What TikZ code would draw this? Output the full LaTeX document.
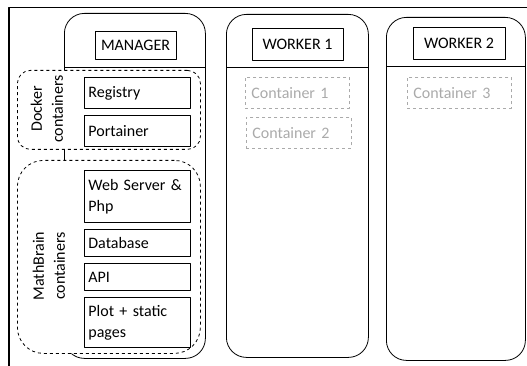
\documentclass[tikz,border=0pt]{standalone}
\usepackage{fontspec}
\setmainfont{Carlito}
\usetikzlibrary{positioning}
\definecolor{lightgrey}{RGB}{170,170,170}

\tikzset{
  hostbox/.style={draw,line width=0.8pt,rounded corners=20pt,anchor=north west,inner sep=0pt},
  headbox/.style={draw,line width=0.8pt,minimum width=81pt,minimum height=28pt,inner sep=0pt},
  srvbox/.style={draw,line width=0.8pt,fill=white,anchor=north west,align=left,text width=98pt,inner xsep=4pt,inner ysep=2pt},
  groupbox/.style={draw,dashed,line width=0.8pt,fill=white,anchor=north west,inner sep=0pt},
  ctrbox/.style={draw=lightgrey,dashed,line width=0.8pt,text=lightgrey,anchor=north west,align=left,text width=92pt,inner xsep=6pt,minimum height=31pt},
  grouplabel/.style={rotate=90,align=center,inner sep=0pt}
}

\begin{document}
\begin{tikzpicture}[x=1pt,y=-1pt,line join=round,font=\fontsize{16}{21}\selectfont]
\useasboundingbox (0,0) rectangle (527,366);
% frame
\draw[line width=1.2pt] (527,7.5) -- (9,7.5) -- (9,366);

% manager node
\node[hostbox,minimum width=141pt,minimum height=345pt] (manager) at (64,13) {};
\draw[line width=0.8pt] (64,67) -- (205,67);
\node[headbox] (mgrhead) at (135.5,45) {MANAGER};

\node[groupbox,rounded corners=13pt,minimum width=183pt,minimum height=79pt] (docker) at (17,70) {};
\node[grouplabel] (dockerlbl) at (47,109) {Docker\\containers};
\node[srvbox,minimum height=31pt] (registry) at (84,77) {Registry};
\node[srvbox,minimum height=31pt] (portainer) at (84,115) {Portainer};

\node[groupbox,rounded corners=26pt,minimum width=183pt,minimum height=193pt] (mathbrain) at (17,160) {};
\node[grouplabel] (mathlbl) at (49,266) {MathBrain\\containers};
\node[srvbox,minimum height=52pt] (webserver) at (84,170) {Web Server \&\\Php};
\node[srvbox,minimum height=27pt] (database) at (84,229) {Database};
\node[srvbox,minimum height=27pt] (api) at (84,263) {API};
\node[srvbox,minimum height=50pt] (plot) at (84,297) {Plot + static\\pages};

% worker nodes
\node[hostbox,minimum width=142pt,minimum height=343pt] (worker1) at (226,14) {};
\draw[line width=0.8pt] (226,67) -- (368,67);
\node[headbox,minimum width=91pt,minimum height=32pt] (w1head) at (297.5,44) {WORKER 1};
\node[ctrbox] (ctr1) at (245,77) {Container 1};
\node[ctrbox,text width=93pt] (ctr2) at (246,117) {Container 2};

\node[hostbox,minimum width=139pt,minimum height=343pt] (worker2) at (386,17) {};
\draw[line width=0.8pt] (386,66) -- (525,66);
\node[headbox,minimum width=92pt,minimum height=32pt] (w2head) at (459,43) {WORKER 2};
\node[ctrbox,text width=92pt] (ctr3) at (407,77) {Container 3};
\end{tikzpicture}
\end{document}
